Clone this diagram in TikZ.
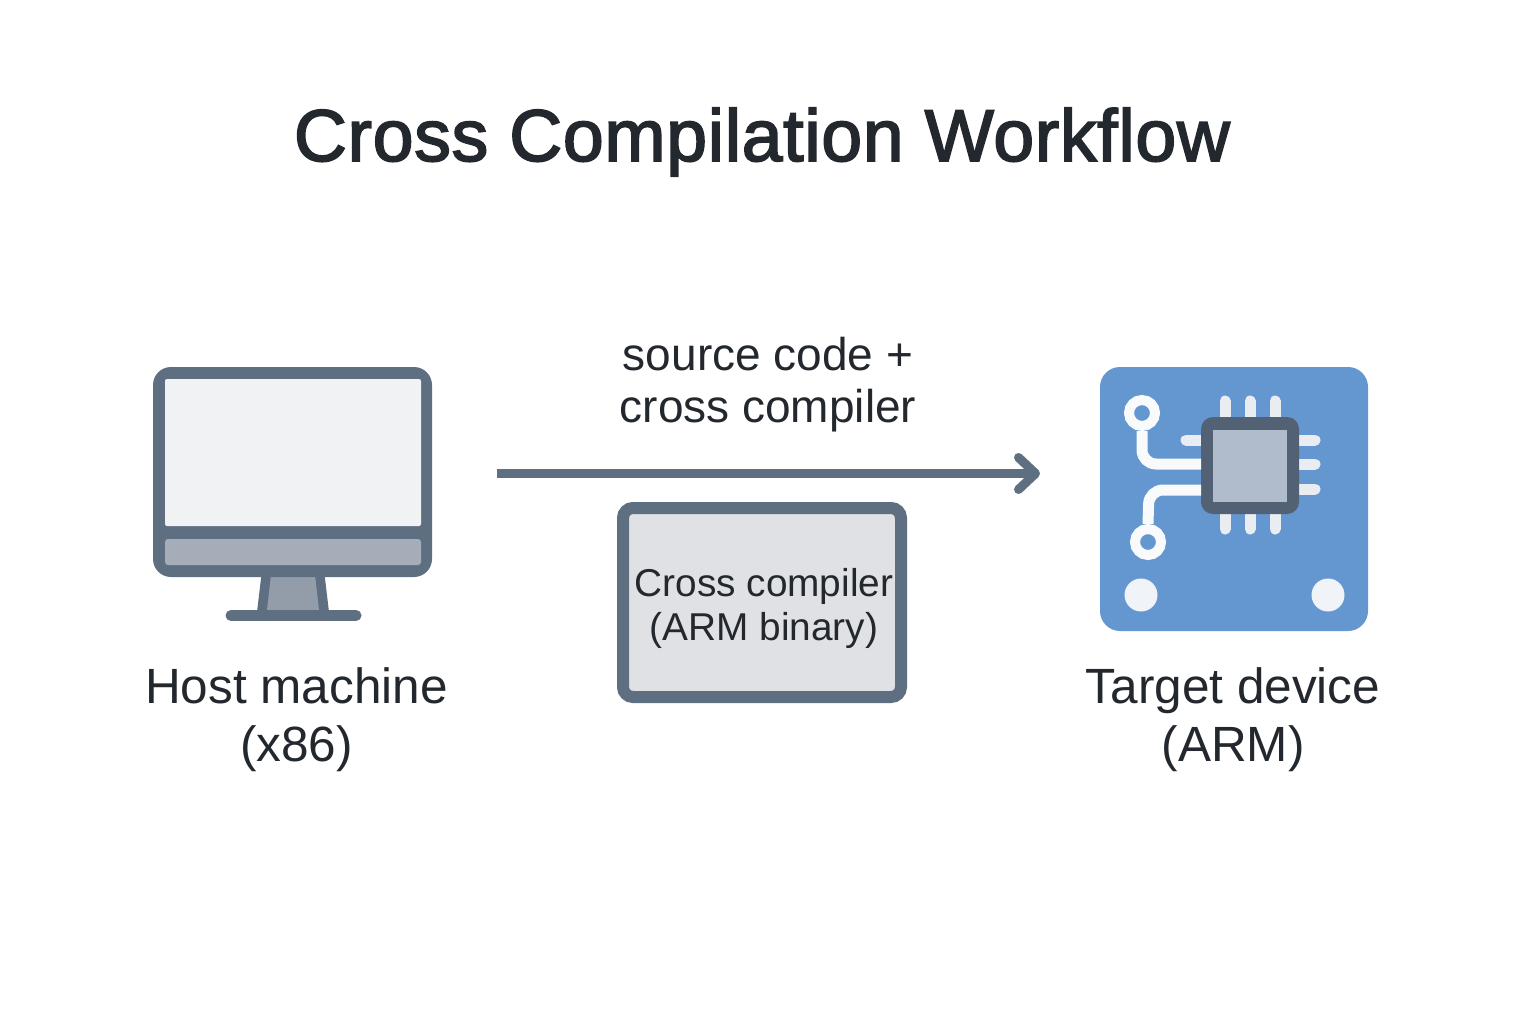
\documentclass[tikz,border=0pt]{standalone}
\usepackage{fontspec}
\setmainfont{Liberation Sans}
\newfontfamily\titlefont[FakeBold=2.4,LetterSpace=1]{Liberation Sans}
\usetikzlibrary{arrows.meta}
\definecolor{slate}{HTML}{5F6F82}
\definecolor{chipdark}{HTML}{526173}
\definecolor{chipcore}{HTML}{B0BCCB}
\definecolor{board}{HTML}{6496CF}
\definecolor{pinlight}{HTML}{E9EDF2}
\definecolor{tracelight}{HTML}{F8FAFC}
\definecolor{screenlight}{HTML}{F1F2F4}
\definecolor{holelight}{HTML}{F0F4F9}
\definecolor{panel}{HTML}{A5ADB8}
\definecolor{standfill}{HTML}{939DA9}
\definecolor{boxfill}{HTML}{E0E1E4}
\definecolor{ink}{HTML}{23282E}
\tikzset{
  labeltext/.style={text=ink,align=center,inner sep=0pt,font=\fontsize{49.5}{58}\selectfont},
  flowtext/.style={text=ink,align=center,inner sep=0pt,font=\fontsize{46}{52}\selectfont},
  pinline/.style={pinlight,line width=11pt,line cap=round},
  traceline/.style={tracelight,line width=11pt,rounded corners=14pt},
  padring/.style={circle,draw=tracelight,fill=board,line width=10pt,minimum size=26pt,inner sep=0pt},
  hole/.style={circle,fill=holelight,minimum size=33pt,inner sep=0pt}
}
\begin{document}
\begin{tikzpicture}[x=1pt,y=-1pt]
\useasboundingbox (0,0) rectangle (1536,1024);
\fill[white] (0,0) rectangle (1536,1024);
\node[text=ink,inner sep=0pt,font=\fontsize{73.3}{80}\selectfont\titlefont] (title) at (762,142) {Cross Compilation Workflow};
\fill[slate] (262,570) -- (324,570) -- (329,612) -- (257,612) -- cycle;
\fill[standfill] (271,575) -- (315,575) -- (319,610) -- (267,610) -- cycle;
\draw[slate,line width=11pt,line cap=round] (231,615.5) -- (356,615.5);
\node[fill=slate,rounded corners=18pt,minimum width=279pt,minimum height=210pt,inner sep=0pt] (host) at (292.5,472) {};
\fill[screenlight,rounded corners=2pt] (165,379) rectangle (421,526);
\fill[panel,rounded corners=3pt] (165,539) rectangle (421,565);
\node[labeltext] (hostlabel) at (296.5,720) {Host machine\\(x86)};
\node[flowtext] (flowlabel) at (768,385) {source code +\\cross compiler};
\coordinate (flowstart) at (497,473.5);
\coordinate (flowend) at (1040,473.5);
\draw[slate,line width=9pt,-{Straight Barb[length=17pt,width=32pt,round]}] (flowstart) -- (flowend);
\node[draw=slate,fill=boxfill,line width=12pt,rounded corners=10pt,minimum width=278pt,minimum height=189pt,inner sep=0pt] (compiler) at (762,602.5) {};
\node[text=ink,align=center,inner sep=0pt,font=\fontsize{38.8}{44}\selectfont] (compilerlabel) at (764,608) {Cross compiler\\(ARM binary)};
\node[fill=board,rounded corners=20pt,minimum width=268pt,minimum height=264pt,inner sep=0pt] (target) at (1234,499) {};
\foreach \px in {1225,1250,1275} {
  \draw[pinline] (\px,401) -- (\px,529);
}
\foreach \py in {440,464,489} {
  \draw[pinline] (1250,\py) -- (1315,\py);
}
\draw[pinline] (1186,440) -- (1250,440);
\node[padring] (padtop) at (1142,413) {};
\node[padring] (padbottom) at (1148,542) {};
\node[fill=chipdark,rounded corners=12pt,minimum width=98pt,minimum height=97pt,inner sep=0pt] (chip) at (1250,465.5) {};
\fill[chipcore] (1213,430) rectangle (1287,502);
\draw[traceline] (padtop) ++(0,18) -- (1142,464) -- (1201,464);
\draw[traceline] (padbottom) ++(0,-18) -- (1149,490) -- (1201,490);
\node[hole] (holeleft) at (1141,595) {};
\node[hole] (holeright) at (1328,595) {};
\node[labeltext] (targetlabel) at (1233,720) {Target device\\(ARM)};
\end{tikzpicture}
\end{document}
